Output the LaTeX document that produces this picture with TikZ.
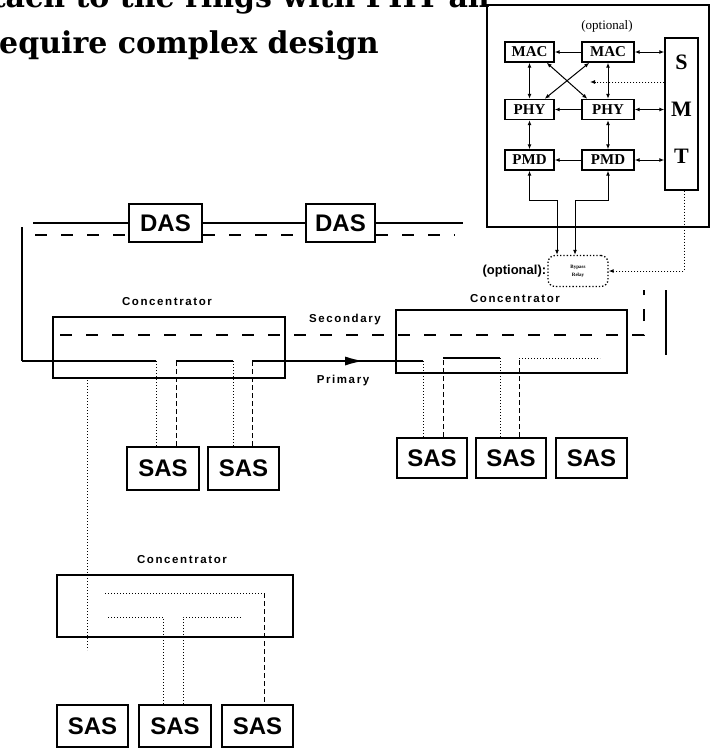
\documentclass[tikz,border=0pt]{standalone}
\usepackage{fontspec}
\setmainfont{Liberation Serif}
\setsansfont{Liberation Sans}
\newfontfamily\titlefont{DejaVu Serif}
\newfontfamily\spacedsans[LetterSpace=14]{Liberation Sans}
\usetikzlibrary{arrows.meta,decorations.markings}
\tikzset{
  smbox/.style={draw, line width=1.4pt, inner sep=0pt, font=\bfseries\fontsize{15}{15}\selectfont},
  stbox/.style={draw, line width=2pt, inner sep=0pt, font=\sffamily\bfseries\fontsize{24}{24}\selectfont},
  conc/.style={draw, line width=2.6pt, inner sep=0pt},
  clabel/.style={inner sep=0pt, font=\spacedsans\bfseries\fontsize{11.5}{11.5}\selectfont},
  tipone/.style={-{Latex[length=5pt,width=4pt]}},
  tiptwo/.style={{Latex[length=5pt,width=4pt]}-{Latex[length=5pt,width=4pt]}},
  link/.style={line width=1pt},
  ring/.style={line width=1.3pt},
  faint/.style={line width=1pt, dotted},
  secdash/.style={line width=1.3pt, dash pattern=on 12pt off 14pt},
  thindash/.style={line width=1pt, dash pattern=on 5pt off 3pt},
  smtl/.style={inner sep=0pt, font=\bfseries\fontsize{22}{22}\selectfont},
  titletext/.style={anchor=base east, inner sep=0pt, font=\titlefont\bfseries\fontsize{30}{32}\selectfont}
}
\begin{document}
\begin{tikzpicture}[x=1pt,y=-1pt]
\useasboundingbox (0,0) rectangle (714,748);

% title text (clipped at page edges, as in the reference)
\node[titletext] (t2) at (379,53) {Require complex design};
\node[titletext] (t1) at (490,7) {attach to the rings with PHY an};

% ---------------- SMT frame ----------------
\node[draw, line width=1.5pt, minimum width=222, minimum height=222, inner sep=0pt] (frame) at (598,116) {};
\node[inner sep=0pt, font=\fontsize{13}{13}\selectfont] (opt1) at (607,26) {(optional)};
\node[smbox, minimum width=49, minimum height=20] (mac1) at (529.5,52) {MAC};
\node[smbox, minimum width=52, minimum height=20] (mac2) at (608,52) {MAC};
\node[smbox, minimum width=49, minimum height=20] (phy1) at (529.5,109.5) {PHY};
\node[smbox, minimum width=52, minimum height=20] (phy2) at (608,109.5) {PHY};
\node[smbox, minimum width=49, minimum height=20] (pmd1) at (529.5,160) {PMD};
\node[smbox, minimum width=52, minimum height=20] (pmd2) at (608,160) {PMD};
\node[draw, line width=1.4pt, minimum width=33, minimum height=152, inner sep=0pt] (smt) at (681.5,114) {};
\node[smtl] (sS) at (681.5,62) {S};
\node[smtl] (sM) at (681.5,109) {M};
\node[smtl] (sT) at (681.5,156) {T};

\draw[link,tipone] (mac2) -- (mac1);
\draw[link,tipone] (phy2) -- (phy1);
\draw[link,tipone] (pmd2) -- (pmd1);
\draw[link,tiptwo] (mac2.east) -- (mac2.east -| smt.west);
\draw[link,tiptwo] (phy2.east) -- (phy2.east -| smt.west);
\draw[link,tiptwo] (pmd2.east) -- (pmd2.east -| smt.west);
\draw[link,tiptwo] (mac1) -- (phy1);
\draw[link,tiptwo] (phy1) -- (pmd1);
\draw[link,tiptwo] (mac2) -- (phy2);
\draw[link,tiptwo] (phy2) -- (pmd2);
\draw[link,tiptwo] ([xshift=-8pt]mac1.south east) -- ([xshift=6pt]phy2.north west);
\draw[link,tiptwo] ([xshift=-10pt]phy1.north east) -- ([xshift=8pt]mac2.south west);
\coordinate (dotend) at (590,82);
\draw[link,dotted,tipone] (smt.west |- dotend) -- (dotend);

% bypass relay
\node[draw, dotted, line width=1.3pt, rounded corners=7pt, minimum width=60, minimum height=31, inner sep=0pt, align=center, font=\bfseries\fontsize{5}{8}\selectfont] (byp) at (578,271) {Bypass\\Relay};
\node[anchor=east, inner sep=1pt, font=\sffamily\bfseries\fontsize{13}{13}\selectfont] (opt2) at (byp.west) {(optional):};
\coordinate (k1) at (557,200);
\coordinate (k2) at (575,200);
\coordinate (k3) at (684,271);
\draw[link,tiptwo] (pmd1.south) |- (k1) -- (k1 |- byp.north);
\draw[link,tiptwo] (pmd2.south) |- (k2) -- (k2 |- byp.north);
\draw[link,dotted,tipone] (smt.south -| k3) -- (k3) -- (byp.east);

% ---------------- DAS ring ----------------
\node[stbox, minimum width=73, minimum height=38] (das1) at (165.5,223) {DAS};
\node[stbox, minimum width=69, minimum height=38] (das2) at (340.5,223) {DAS};
\coordinate (tl) at (33,223);
\coordinate (tr) at (463,223);
\draw[ring] (tl) -- (das1);
\draw[ring] (das1) -- (das2);
\draw[ring] (das2) -- (tr);
\coordinate (dl) at (35,235);
\coordinate (dr) at (455,235);
\draw[secdash] (dl) -- (dl -| das1.west);
\draw[secdash] (das1.east |- dl) -- (das2.west |- dl);
\draw[secdash] (das2.east |- dl) -- (dr);
\coordinate (lv1) at (22,227);
\coordinate (lv2) at (22,361);
\draw[ring] (lv1) -- (lv2);

% ---------------- Concentrator 1 ----------------
\node[conc, minimum width=232, minimum height=61] (c1) at (169,347.5) {};
\node[clabel] (c1l) at (167,302) {Concentrator};
\node[stbox, minimum width=72, minimum height=43] (s11) at (163,468.5) {SAS};
\node[stbox, minimum width=71, minimum height=43] (s12) at (243.5,468.5) {SAS};

% ---------------- Concentrator 2 ----------------
\node[conc, minimum width=231, minimum height=63] (c2) at (511.5,341.5) {};
\node[clabel] (c2l) at (515,299) {Concentrator};
\node[stbox, minimum width=70, minimum height=40] (s21) at (432,458) {SAS};
\node[stbox, minimum width=70, minimum height=40] (s22) at (511,458) {SAS};
\node[stbox, minimum width=71, minimum height=40] (s23) at (591.5,458) {SAS};

\node[clabel] (sec) at (345,320) {Secondary};
\node[clabel] (pri) at (343,381) {Primary};

% secondary ring
\coordinate (sa) at (60,335);
\coordinate (sb) at (644,335);
\coordinate (sc) at (644,290);
\draw[secdash] (sa) -- (sb) -- (sc);

% primary ring through C1
\coordinate (p1) at (156,361);
\coordinate (p2) at (176,361);
\coordinate (p3) at (233,361);
\coordinate (p4) at (252,361);
\coordinate (q1) at (423,361);
\draw[ring] (lv2) -- (p1);
\draw[faint] (p1) -- (p1 |- s11.north);
\draw[thindash] (s11.north -| p2) -- (p2);
\draw[ring] (p2) -- (p3);
\draw[faint] (p3) -- (p3 |- s12.north);
\draw[thindash] (s12.north -| p4) -- (p4);
\draw[ring, postaction={decorate}, decoration={markings, mark=at position 0.65 with {\arrow{Latex[length=18pt,width=9pt]}}}] (p4) -- (q1);

% primary ring through C2
\coordinate (q2) at (443,358);
\coordinate (q3) at (500,358);
\coordinate (q4) at (519,358);
\coordinate (q5) at (600,358);
\draw[faint] (q1) -- (q1 |- s21.north);
\draw[thindash] (s21.north -| q2) -- (q2);
\draw[ring] (q2) -- (q3);
\draw[faint] (q3) -- (q3 |- s22.north);
\draw[thindash] (s22.north -| q4) -- (q4);
\draw[faint] (q4) -- (q5);
\coordinate (rv1) at (666,290);
\coordinate (rv2) at (666,355);
\draw[ring] (rv1) -- (rv2);

% ---------------- Concentrator 3 ----------------
\node[conc, minimum width=236, minimum height=62] (c3) at (175,606) {};
\node[clabel] (c3l) at (182,560) {Concentrator};
\node[stbox, minimum width=71, minimum height=42] (s31) at (92.5,726) {SAS};
\node[stbox, minimum width=72, minimum height=42] (s32) at (175,726) {SAS};
\node[stbox, minimum width=71, minimum height=42] (s33) at (257.5,726) {SAS};
\coordinate (u1) at (105,593);
\coordinate (u2) at (264,593);
\coordinate (w1) at (108,617);
\coordinate (w2) at (163,617);
\coordinate (w3) at (183,617);
\coordinate (w4) at (242,617);
\draw[faint] (u1) -- (u2);
\draw[thindash] (u2) -- (u2 |- s33.north);
\draw[faint] (w1) -- (w2) -- (w2 |- s32.north);
\draw[faint] (s32.north -| w3) -- (w3) -- (w4);
\coordinate (v1) at (87,380);
\coordinate (v2) at (87,650);
\draw[faint] (v1) -- (v2);
\end{tikzpicture}
\end{document}
